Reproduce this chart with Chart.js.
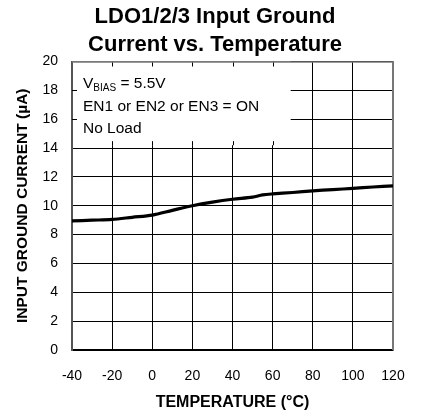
<!DOCTYPE html>
<html>
<head>
<meta charset="utf-8">
<script src="https://cdn.jsdelivr.net/npm/chart.js@4"></script>
<style>
  html, body { margin: 0; padding: 0; background: #fff; }
  #wrap { width: 423px; height: 416px; position: relative; }
</style>
</head>
<body>
<div id="wrap"><canvas id="c" width="423" height="416"></canvas></div>
<script>
// ---- data ----
const temperatures = [-40, -30, -20, -10, 0, 10, 20, 30, 40, 50, 55, 60, 70, 80, 90, 100, 110, 120];
const groundCurrent = [8.95, 9.0, 9.05, 9.2, 9.35, 9.68, 10.0, 10.25, 10.45, 10.6, 10.75, 10.82, 10.92, 11.03, 11.12, 11.2, 11.3, 11.38];
const titleLines = ['LDO1/2/3 Input Ground', 'Current vs. Temperature'];
const xTitle = 'TEMPERATURE (°C)';
const yTitle = 'INPUT GROUND CURRENT (µA)';
const noteLines = ['EN1 or EN2 or EN3 = ON', 'No Load'];
const xMin = -40, xMax = 120, xStep = 20;
const yMin = 0, yMax = 20, yStep = 2;
// annotation box extent in data units
const boxX = [-40, 69], boxY = [14.2, 20];

const FONT = "'Liberation Sans', Arial, sans-serif";

const notePlugin = {
  id: 'note',
  beforeDatasetsDraw(chart) {
    const {ctx, chartArea, scales: {x, y}} = chart;
    const l = x.getPixelForValue(boxX[0]), r = x.getPixelForValue(boxX[1]);
    const t = y.getPixelForValue(boxY[1]), b = y.getPixelForValue(boxY[0]);
    ctx.save();
    ctx.fillStyle = '#fff';
    ctx.fillRect(l + 1, t, r - l - 1, b - t);
    // short inward ticks
    ctx.strokeStyle = '#000';
    ctx.lineWidth = 1;
    ctx.beginPath();
    for (let v = xMin + xStep; v < boxX[1]; v += xStep) {
      const px = Math.round(x.getPixelForValue(v)) + 0.5;
      ctx.moveTo(px, t); ctx.lineTo(px, t + 5);
      ctx.moveTo(px, b); ctx.lineTo(px, b - 4);
    }
    for (let v = yMax - yStep; v > boxY[0]; v -= yStep) {
      const py = Math.round(y.getPixelForValue(v)) + 0.5;
      ctx.moveTo(l, py); ctx.lineTo(l + 5, py);
    }
    ctx.stroke();
    // text
    ctx.fillStyle = '#000';
    ctx.textBaseline = 'alphabetic';
    ctx.textAlign = 'left';
    const tx = l + 11;
    ctx.font = '15.5px ' + FONT;
    ctx.fillText('V', tx, 88);
    let w = ctx.measureText('V').width;
    ctx.font = '10px ' + FONT;
    ctx.fillText('BIAS', tx + w, 91);
    w += ctx.measureText('BIAS').width;
    ctx.font = '15.5px ' + FONT;
    ctx.fillText(' = 5.5V', tx + w, 88);
    ctx.fillText(noteLines[0], tx, 111);
    ctx.fillText(noteLines[1], tx, 133);
    // top & right frame
    ctx.strokeStyle = '#777';
    ctx.lineWidth = 1.5;
    ctx.beginPath();
    ctx.moveTo(chartArea.left, chartArea.top + 0.5);
    ctx.lineTo(chartArea.right, chartArea.top + 0.5);
    ctx.stroke();
    ctx.lineWidth = 2;
    ctx.beginPath();
    ctx.moveTo(chartArea.right, chartArea.top);
    ctx.lineTo(chartArea.right, chartArea.bottom);
    ctx.stroke();
    ctx.restore();
  }
};

new Chart(document.getElementById('c'), {
  type: 'line',
  data: {
    datasets: [{
      data: temperatures.map((t, i) => ({x: t, y: groundCurrent[i]})),
      borderColor: '#000',
      borderWidth: 3.2,
      pointRadius: 0,
      tension: 0.3,
      fill: false
    }]
  },
  options: {
    responsive: false,
    animation: false,
    devicePixelRatio: 1,
    layout: { padding: { left: 37, right: 30, top: 0, bottom: 0 } },
    plugins: {
      legend: { display: false },
      tooltip: { enabled: false },
      title: {
        display: true,
        text: titleLines,
        color: '#000',
        font: { family: FONT, size: 22, weight: 'bold', lineHeight: 1.25 },
        padding: { top: 3.25, bottom: 3.25 }
      }
    },
    scales: {
      x: {
        type: 'linear',
        min: xMin, max: xMax,
        afterFit(s) { s.height = 66; },
        ticks: { stepSize: xStep, color: '#000', font: { family: FONT, size: 14 }, padding: 18 },
        grid: { color: '#000', lineWidth: 1, drawTicks: false },
        border: { color: '#000', width: 1.5 },
        title: { display: true, text: xTitle, color: '#000', font: { family: FONT, size: 16, weight: 'bold' }, padding: { top: 0, bottom: 4 } }
      },
      y: {
        min: yMin, max: yMax,
        afterFit(s) { s.width = 35; },
        ticks: { stepSize: yStep, color: '#000', font: { family: FONT, size: 14 }, padding: 14 },
        grid: { color: '#000', lineWidth: 1, drawTicks: false },
        border: { color: '#555', width: 2 },
        title: { display: true, text: yTitle, color: '#000', font: { family: FONT, size: 15.5, weight: 'bold' }, padding: { top: -23.5, bottom: 0 } }
      }
    }
  },
  plugins: [notePlugin]
});
</script>
</body>
</html>
